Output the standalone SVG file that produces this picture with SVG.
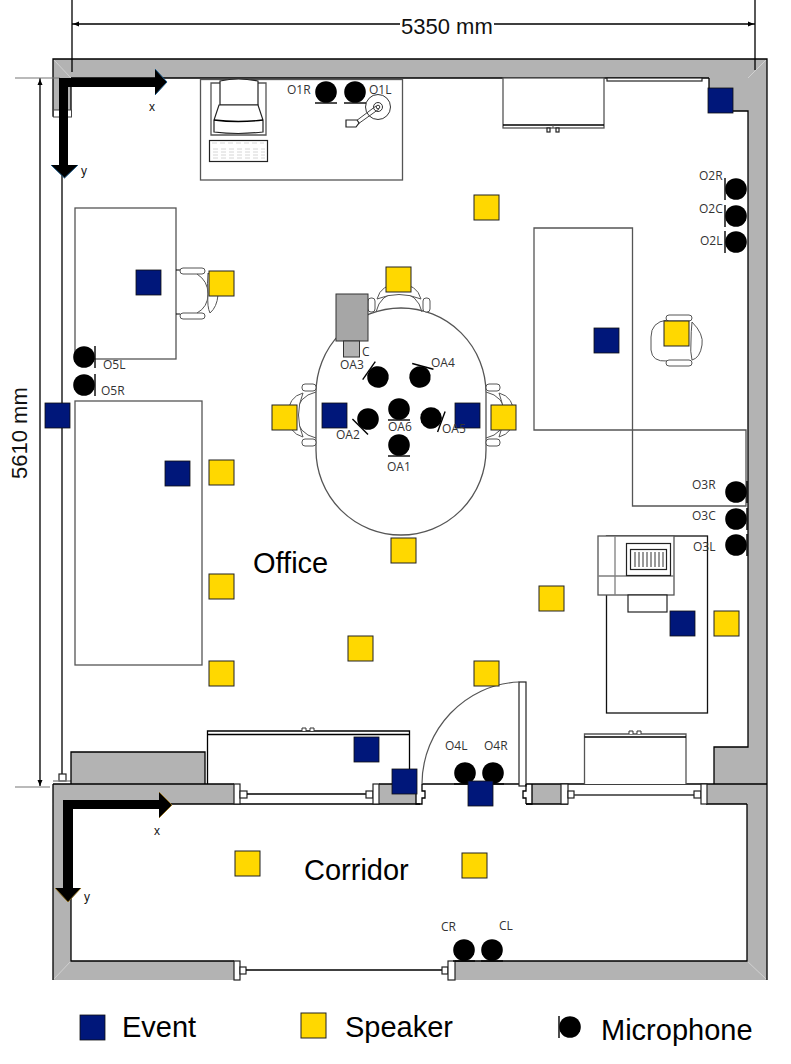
<svg xmlns="http://www.w3.org/2000/svg" width="791" height="1064" viewBox="0 0 791 1064">
<style>
.wall{fill:#b3b3b3;stroke:none}
.ln{fill:none;stroke:#000;stroke-width:1.3}
.gl{fill:none;stroke:#7f7f7f;stroke-width:1.3}
.dk{fill:#fff;stroke:#555;stroke-width:1.3}
.wb{fill:#fff;stroke:#222;stroke-width:1.2}
.ev{fill:#00177a;stroke:#111;stroke-width:.8}
.sp{fill:#ffd800;stroke:#222;stroke-width:1}
.lab{font-family:"Open Sans","Noto Sans",sans-serif;font-size:12px;fill:#333}
.axis{font-family:"Liberation Sans",Arial,sans-serif;font-size:12px;fill:#111}
.big{font-family:"Liberation Sans",Arial,sans-serif;font-size:29px;fill:#000}
.dim{font-family:"Liberation Sans",Arial,sans-serif;font-size:22px;fill:#111}
</style>
<defs>
<rect id="ev" class="ev" width="25" height="25"/>
<rect id="sp" class="sp" width="25" height="25"/>
<g id="mic"><circle r="10.8" fill="#000"/><path d="M-11,11 H11" stroke="#000" stroke-width="1.4"/></g>
<g id="chairA" fill="#fff" stroke="#555" stroke-width="1">
<path d="M0,-25 H4 M0,19 H4" stroke="#000"/>
<rect x="4" y="-27" width="25" height="6" rx="3"/><rect x="4" y="18" width="25" height="6" rx="3"/>
<path d="M21,-21 Q32,-14 32,-1 Q32,12 21,18" fill="none"/>
<path d="M32,-22 Q44,-10 42,0 Q41,12 34,18 Q31,12 32,-1 Q31,-12 32,-22Z"/>
</g>
<g id="chairB" fill="#fff" stroke="#555" stroke-width="1">
<rect x="0" y="-31" width="14" height="7" rx="3"/><rect x="0" y="24" width="14" height="7" rx="3"/>
<path d="M0,-23 Q18,-19 20,0 Q18,19 0,23" fill="none"/>
<path d="M13,-22 Q28,-18 28,0 Q28,18 13,22 Q22,0 13,-22Z"/>
</g>
<path id="nub" d="M0,0 V-3 H4 V0 M8,0 V-3 H12 V0" fill="#fff" stroke="#333" stroke-width="1"/>
</defs>

<g id="walls">
<path class="wall" d="M53,59 H767 V784 H714 V747 H748 V111 H709 V78 H71 V110 H53Z"/>
<path class="wall" d="M71,752 H205 V784 H71Z"/>
<path class="wall" d="M53,784 H234 V804 H71 V961 H234 V980 H53Z"/>
<path class="wall" d="M379,784 H416 V804 H379Z"/>
<path class="wall" d="M532,784 H561 V804 H532Z"/>
<path class="wall" d="M706,784 H767 V980 H455 V961 H747 V804 H706Z"/>
<path d="M54,60 L71,78 M766,60 L748,78 M54,979 L71,961 M766,979 L747,961" stroke="#d0d0d0" stroke-width="1" fill="none"/>
<path class="ln" d="M53,78 V59 H767 V784 M709,78 V111 H748 V747 H714 V784 M53,78 V116 H71 V78 M71,78 H709"/>
<rect x="53.500" y="110" width="18" height="7" fill="#fff" stroke="#444" stroke-width="1"/>
<path class="ln" d="M62,117 V774"/>
<rect class="wb" x="59" y="774" width="7" height="7"/>
<path class="gl" d="M53,781 H71"/>
<path class="ln" d="M71,784 V752 H205 V784"/>
<path class="ln" d="M53,784 H234 M379,784 H416 M71,804 H420 M71,804 V961 H234 M53,784 V980 M767,784 V980 M747,804 V961 H455 M706,804 H747 M526,804 H568 M422,784 H767"/>
</g>

<g id="openings">
<rect class="wb" x="234" y="784" width="6" height="20"/><rect class="wb" x="240" y="791" width="7" height="7"/>
<path class="ln" d="M247,794 H366"/>
<rect class="wb" x="366" y="791" width="7" height="7"/><rect class="wb" x="373" y="784" width="6" height="20"/>
<path class="ln" d="M416,784 V804 H422 V798 H425 V791 H422 V784"/>
<rect class="wb" x="519" y="682" width="7" height="104"/>
<path d="M422,784 C422,730 465,684 519,682" fill="none" stroke="#555" stroke-width="1.2"/>
<path class="ln" d="M526,804 V798 H523 V791 H526 V784 M526,804 H532 V784"/>
<rect class="wb" x="561" y="784" width="7" height="20"/><rect class="wb" x="568" y="791" width="6" height="7"/>
<path d="M574,795 H694" stroke="#333" stroke-width="1.5"/>
<rect class="wb" x="694" y="791" width="7" height="7"/><rect class="wb" x="701" y="784" width="6" height="20"/>
<rect class="wb" x="234" y="961" width="6" height="19"/><rect class="wb" x="240" y="967" width="6" height="7"/>
<path class="ln" d="M246,970 H442"/>
<rect class="wb" x="442" y="967" width="6" height="7"/><rect class="wb" x="448" y="961" width="7" height="19"/>
<rect class="wb" x="607" y="78" width="95" height="3"/>
</g>

<g id="dimensions">
<path class="ln" d="M72,0 V72 M755,0 V70 M72,24 H400 M494,24 H755 M40,78 V786"/>
<path d="M15,78 H60 M15,787 H50" stroke="#777" stroke-width="1.2"/>
<path d="M73,24 l6,-2.500 v5Z M754,24 l-6,-2.500 v5Z M40,79 l-2.500,6 h5Z M40,786 l-2.500,-6 h5Z" fill="#000"/>
<text class="dim" x="401" y="34">5350 mm</text>
<text class="dim" transform="translate(27,479) rotate(-90)">5610 mm</text>
</g>

<g id="furniture">
<g id="desk-top"><rect class="dk" x="200.500" y="79.500" width="202" height="100.500"/>
<path class="dk" d="M211,135 V83 H266 V135Z"/>
<path class="wb" d="M220,105 V81 Q238,77 258,81 V105Z"/>
<path class="wb" d="M219,105 H258 L263,120 V132 Q238,135 214,132 V120Z"/><path class="ln" d="M214,120 Q238,123 263,120" stroke-width="1"/>
<rect class="wb" x="209.500" y="140.500" width="58" height="21"/>
<path d="M212,143 H264 M213,149 H265 M213,152 H265 M213,155 H265 M213,158 H265" stroke="#ccc" stroke-width=".8" stroke-dasharray="5 3"/>
<circle cx="378" cy="107" r="12.500" fill="#fff" stroke="#333"/><circle cx="378" cy="107" r="4.500" fill="#fff" stroke="#333"/><circle cx="378" cy="107" r="1.800" fill="#fff" stroke="#333"/>
<path d="M376,106 L356,121 M379,109 L358,124" stroke="#444"/>
<path class="wb" d="M346,120 H357 L359,123 L356,127 H346Z"/></g>
<g id="cabinet-top"><rect class="dk" x="503" y="78" width="101" height="50"/><path class="ln" d="M503,125 H604"/><path d="M553,125 V128" stroke="#555"/><rect class="wb" x="547" y="128" width="3" height="4" stroke-width=".8"/><rect class="wb" x="556" y="128" width="3" height="4" stroke-width=".8"/></g>
<g id="desk-left-1"><rect class="dk" x="75" y="208" width="101" height="151"/><use href="#chairA" transform="translate(176,295)"/></g>
<rect id="desk-left-2" class="dk" x="75" y="401" width="127" height="264"/>
<g id="table-right"><path class="dk" d="M534,430 V228 H632.500 V506 H746 V430 H534Z" style="fill:none"/></g>
<g id="chair-right" fill="#fff" stroke="#555" stroke-width="1"><rect x="666" y="315" width="26" height="6" rx="3"/><rect x="666" y="360" width="26" height="6" rx="3"/><path d="M667,320 Q651,322 651,337 V350 Q652,362 667,361" fill="none"/><path d="M692,322 Q704,334 702,345 Q700,358 692,360 Q690,352 691,341 Q691,332 692,322Z"/></g>
<g id="desk-lower-right"><rect x="606.500" y="536" width="101" height="177" fill="none" stroke="#111" stroke-width="1.300"/>
<rect class="dk" x="598" y="536" width="76" height="59"/><path class="gl" d="M615,536 V595 M598,576 H674"/>
<rect class="wb" x="626.500" y="543.500" width="44" height="32"/><rect class="wb" x="630.500" y="549.500" width="36" height="20"/>
<path d="M635,552 V567 M639,552 V567 M643,552 V567 M647,552 V567 M651,552 V567 M655,552 V567 M659,552 V567 M663,552 V567" stroke="#333" stroke-width="1"/>
<rect class="wb" x="628" y="595" width="39" height="17"/></g>
<g id="table-center"><path class="dk" d="M316,393 A85,85 0 0 1 486,393 V450 A85,85 0 0 1 316,450Z"/>
<use href="#chairB" transform="translate(399,312) rotate(-90)"/><use href="#chairB" transform="translate(316,415) rotate(180)"/><use href="#chairB" transform="translate(486,415)"/></g>
<g id="projector"><rect x="336" y="294" width="32" height="47" fill="#a6a6a6" stroke="#333"/><rect x="343.500" y="341" width="16" height="16" fill="#b3b3b3" stroke="#333"/></g>
<g id="desk-bottom-left"><path class="ln" d="M207.500,784 V731 H409.500 V784 M207.500,734.500 H409.500"/><use href="#nub" x="302" y="731"/></g>
<g id="cabinet-bottom"><path class="dk" d="M584.500,784 V734 H686 V784" style="fill:#fff"/><path class="ln" d="M584.500,737 H686"/><use href="#nub" x="629" y="734"/></g>
</g>

<g id="axes">
<g id="axis-office"><path d="M59,78 H155 V69 L167,82 L155,95 V87 H68 V165 H78 L64.500,178 L51,165 H59Z" fill="#000"/>
<path d="M155,69 L167,82 L155,95 M78,165 L64.500,178 L51,165" fill="none" stroke="#1c5a8a" stroke-width="1"/></g>
<g id="axis-corridor"><path d="M63,800 H159 V792 L172,805 L159,818 V809 H73 V888 H81 L68,902 L55,888 H63Z" fill="#000"/>
<path d="M159,792 L172,805 L159,818 M81,888 L68,902 L55,888" fill="none" stroke="#8a6a1c" stroke-width="1"/></g>
<text class="axis" x="149" y="111">x</text><text class="axis" x="81" y="175">y</text>
<text class="axis" x="154" y="835">x</text><text class="axis" x="84" y="901">y</text>
</g>

<g id="speakers">
<use href="#sp" x="474" y="195"/><use href="#sp" x="209" y="271"/><use href="#sp" x="386" y="267"/><use href="#sp" x="664" y="321"/>
<use href="#sp" x="272" y="405"/><use href="#sp" x="491" y="405"/><use href="#sp" x="209" y="460"/><use href="#sp" x="391" y="538"/>
<use href="#sp" x="209" y="574"/><use href="#sp" x="539" y="586"/><use href="#sp" x="348" y="636"/><use href="#sp" x="209" y="661"/>
<use href="#sp" x="474" y="661"/><use href="#sp" x="714" y="611"/><use href="#sp" x="235" y="851"/><use href="#sp" x="462" y="853"/>
</g>

<g id="microphones">
<use href="#mic" x="326" y="92"/><use href="#mic" x="355" y="92"/>
<use href="#mic" transform="translate(736,189) rotate(90)"/><use href="#mic" transform="translate(736,216) rotate(90)"/><use href="#mic" transform="translate(736,242) rotate(90)"/>
<use href="#mic" transform="translate(736,492) rotate(-90)"/><use href="#mic" transform="translate(736,519) rotate(-90)"/><use href="#mic" transform="translate(736,545) rotate(-90)"/>
<use href="#mic" x="465" y="773"/><use href="#mic" x="493" y="773"/>
<use href="#mic" transform="translate(84,357) rotate(-90)"/><use href="#mic" transform="translate(84,385) rotate(-90)"/>
<use href="#mic" transform="translate(378,377) rotate(125)"/><use href="#mic" transform="translate(420,377) rotate(195)"/>
<use href="#mic" transform="translate(368,419) rotate(45)"/><use href="#mic" x="399" y="409"/><use href="#mic" transform="translate(431,418) rotate(-70)"/><use href="#mic" x="399" y="445"/>
<use href="#mic" x="464" y="950"/><use href="#mic" x="492" y="950"/>
</g>

<g id="events">
<use href="#ev" x="136" y="270"/><use href="#ev" x="594" y="328"/><use href="#ev" x="708" y="88"/><use href="#ev" x="45" y="403"/>
<use href="#ev" x="165" y="461"/><use href="#ev" x="322" y="403"/><use href="#ev" x="455" y="403"/><use href="#ev" x="670" y="611"/>
<use href="#ev" x="354" y="737"/><use href="#ev" x="392" y="769"/><use href="#ev" x="468" y="781"/>
</g>

<g id="labels">
<text class="lab" x="287" y="94">O1R</text><text class="lab" x="369" y="94">O1L</text>
<text class="lab" x="699" y="180">O2R</text><text class="lab" x="699" y="213">O2C</text><text class="lab" x="700" y="245">O2L</text>
<text class="lab" x="692" y="489">O3R</text><text class="lab" x="692" y="520">O3C</text><text class="lab" x="693" y="551">O3L</text>
<text class="lab" x="445" y="750">O4L</text><text class="lab" x="484" y="750">O4R</text>
<text class="lab" x="103" y="369">O5L</text><text class="lab" x="101" y="395">O5R</text>
<text class="lab" x="340" y="369">OA3</text><text class="lab" x="431" y="367">OA4</text><text class="lab" x="336" y="439">OA2</text>
<text class="lab" x="388" y="431">OA6</text><text class="lab" x="442" y="433">OA5</text><text class="lab" x="387" y="471">OA1</text>
<text class="lab" x="362" y="356">C</text>
<text class="lab" x="441" y="931">CR</text><text class="lab" x="499" y="930">CL</text>
<text class="big" x="253" y="573">Office</text><text class="big" x="304" y="880">Corridor</text>
</g>

<g id="legend">
<rect class="ev" x="80" y="1015" width="25" height="25"/><text class="big" x="122" y="1037">Event</text>
<rect class="sp" x="301" y="1013" width="25" height="25"/><text class="big" x="345" y="1037">Speaker</text>
<use href="#mic" transform="translate(570,1027) rotate(90)"/><text class="big" x="601" y="1040">Microphone</text>
</g>
</svg>
